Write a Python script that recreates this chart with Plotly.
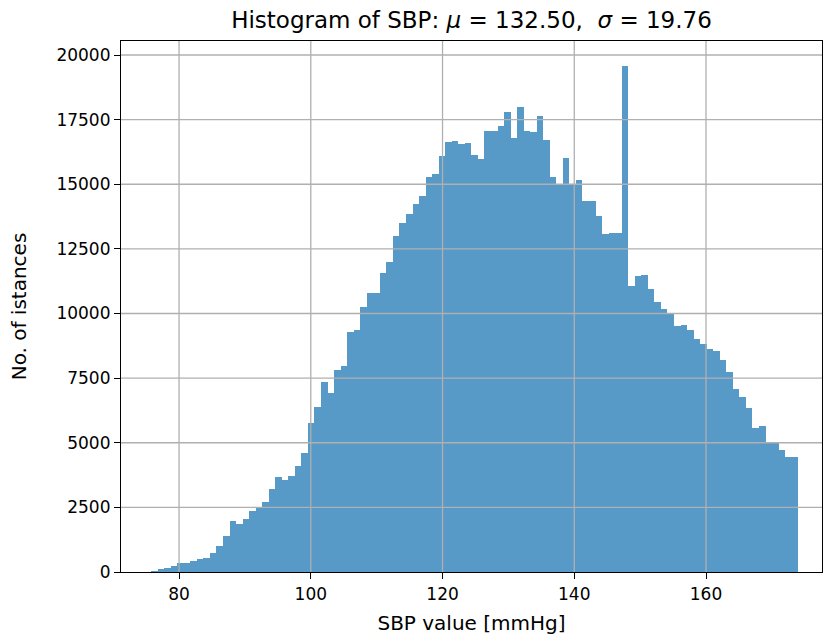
import plotly.graph_objects as go

# Histogram data (99 bins)
bin_start = 75.75
bin_width = 0.9924
counts = [
    55, 116, 172, 243, 348, 365, 415, 508, 558, 734,
    1016, 1403, 1955, 1855, 2060, 2350, 2465, 2705, 3219, 3671,
    3567, 3721, 4119, 4621, 5757, 6390, 7342, 6917, 7817, 7972,
    9274, 9362, 10263, 10780, 10780, 11553, 12002, 13006, 13485, 13833,
    14220, 14552, 15263, 15379, 16110, 16627, 16670, 16568, 16615, 16113,
    15970, 17064, 17064, 17272, 17786, 16793, 17979, 17064, 17013, 17658,
    16731, 15274, 15016, 15997, 15016, 15159, 14347, 14347, 13786, 13072,
    13122, 13122, 19564, 11063, 11449, 11488, 10947, 10440, 10168, 9981,
    9517, 9556, 9362, 9000, 8835, 8622, 8557, 8215, 7720, 7071,
    6773, 6337, 5564, 5660, 5046, 4995, 4726, 4456, 4456,
]
x_ticks = [80, 100, 120, 140, 160]
y_ticks = [0, 2500, 5000, 7500, 10000, 12500, 15000, 17500, 20000]
y_tick_labels = [str(v) for v in y_ticks]

centers = [bin_start + (i + 0.5) * bin_width for i in range(len(counts))]
bin_end = bin_start + len(counts) * bin_width
span = bin_end - bin_start
x_range = [bin_start - 0.05 * span + 0.35, bin_end + 0.05 * span - 1.3]
y_range = [0, max(counts) * 1.05]

grid_color = "#b0b0b0"

fig = go.Figure()
fig.add_trace(go.Bar(
    x=centers, y=counts, width=bin_width,
    marker=dict(color="rgba(31,119,180,0.75)", line=dict(width=0)),
    hoverinfo="x+y",
))

shapes = []
for xv in x_ticks:
    shapes.append(dict(type="line", xref="x", yref="paper", x0=xv, x1=xv, y0=0, y1=1,
                       line=dict(color=grid_color, width=1.3), layer="above"))
for yv in y_ticks[1:]:
    shapes.append(dict(type="line", xref="paper", yref="y", x0=0, x1=1, y0=yv, y1=yv,
                       line=dict(color=grid_color, width=1.3), layer="above"))

font_family = "DejaVu Sans"
fig.update_layout(
    width=824, height=639,
    margin=dict(l=121, r=2, t=41, b=67),
    paper_bgcolor="white", plot_bgcolor="white",
    bargap=0,
    showlegend=False,
    shapes=shapes,
    font=dict(family=font_family, size=17, color="black"),
    title=dict(
        text="Histogram of SBP: <i>μ</i> = 132.50,  <i>σ</i> = 19.76",
        x=0.5, xref="paper", xanchor="center",
        y=1 - 20 / 639, yanchor="middle",
        font=dict(family=font_family, size=23, color="black"),
    ),
    xaxis=dict(
        range=x_range, tickvals=x_ticks, ticktext=[str(v) for v in x_ticks],
        showgrid=False, zeroline=False, automargin=False,
        showline=True, linecolor="black", linewidth=1.2, mirror=True,
        ticks="outside", ticklen=6, tickwidth=1.2, tickcolor="black",
        tickfont=dict(size=17),
        title=dict(text="SBP value [mmHg]", font=dict(size=20), standoff=13),
    ),
    yaxis=dict(
        range=y_range, tickvals=y_ticks, ticktext=y_tick_labels,
        showgrid=False, zeroline=False, automargin=False,
        showline=True, linecolor="black", linewidth=1.2, mirror=True,
        ticks="outside", ticklen=6, tickwidth=1.2, tickcolor="black",
        tickfont=dict(size=17),
        title=dict(text="No. of istances", font=dict(size=20), standoff=24),
    ),
)

fig.write_html("out.html")
